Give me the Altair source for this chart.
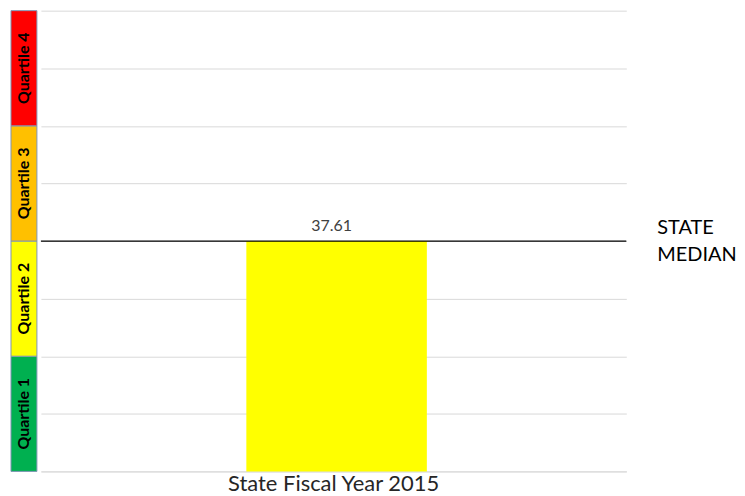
import altair as alt
import pandas as pd

# Data
years = ["State Fiscal Year 2015"]
values = [37.61]
state_median = 37.61
y_max = 75.22
quartile_labels = ["Quartile 1", "Quartile 2", "Quartile 3", "Quartile 4"]
quartile_lo = [0, 18.805, 37.61, 56.415]
quartile_hi = [18.805, 37.61, 56.415, 75.22]
quartile_colors = ["#00b050", "#ffff00", "#ffc000", "#ff0000"]
grid_values = [0, 9.4025, 18.805, 28.2075, 37.61, 47.0125, 56.415, 65.8175, 75.22]

FONT = "Lato"
H = 462

yscale = alt.Scale(domain=[0, y_max], nice=False, zero=True)

qdf = pd.DataFrame({
    "label": quartile_labels,
    "lo": quartile_lo,
    "hi": quartile_hi,
    "col": ["q"] * 4,
})

qx = alt.X("col:N", axis=None, scale=alt.Scale(paddingInner=0, paddingOuter=0))
qbase = alt.Chart(qdf)
qrect = qbase.mark_rect(stroke="#7f96b5", strokeWidth=1).encode(
    x=qx,
    y=alt.Y("lo:Q", scale=yscale, axis=None),
    y2="hi:Q",
    color=alt.Color("label:N", scale=alt.Scale(domain=quartile_labels, range=quartile_colors), legend=None),
)
qtext = qbase.transform_calculate(mid="(datum.lo + datum.hi) / 2").mark_text(
    angle=270, font=FONT, fontSize=16, fontWeight="bold", color="#000000",
    align="center", baseline="middle"
).encode(
    x=qx,
    y=alt.Y("mid:Q", scale=yscale, axis=None),
    text="label:N",
)
qpanel = alt.layer(qrect, qtext).properties(width=26, height=H)

df = pd.DataFrame({"year": years, "value": values})
mdf = pd.DataFrame({"median": [state_median], "label": [["STATE", "MEDIAN"]]})

bars = alt.Chart(df).mark_bar(color="#ffff00", size=181, xOffset=3).encode(
    x=alt.X("year:N", title=None, axis=alt.Axis(
        labelAngle=0, labelFontSize=22, labelFont=FONT, labelColor="#262626",
        labelLimit=0, ticks=False, domain=True, domainColor="#d9d9d9",
        labelPadding=2, grid=False)),
    y=alt.Y("value:Q", scale=yscale, title=None, axis=alt.Axis(
        values=grid_values, labels=False, ticks=False, domain=False,
        grid=True, gridColor="#d9d9d9", gridWidth=1)),
)
vlabels = alt.Chart(df).mark_text(
    font=FONT, fontSize=16, color="#404040", dy=-15, dx=-2, baseline="middle"
).encode(
    x="year:N",
    y=alt.Y("value:Q", scale=yscale),
    text=alt.Text("value:Q", format=".2f"),
)
rule = alt.Chart(mdf).mark_rule(color="#000000", strokeWidth=1.2).encode(
    y=alt.Y("median:Q", scale=yscale),
)
mtext = alt.Chart(mdf).mark_text(
    font=FONT, fontSize=20, color="#000000", align="left", baseline="middle",
    lineHeight=27, dy=-13
).encode(
    x=alt.value(618),
    y=alt.Y("median:Q", scale=yscale),
    text="label",
)
main = alt.layer(bars, vlabels, rule, mtext).properties(width=587, height=H)

chart = alt.hconcat(qpanel, main, spacing=2).properties(
    padding={"left": 2, "top": 1, "right": 0, "bottom": 0}
).configure(background="#ffffff").configure_view(strokeWidth=0, stroke=None)

chart.save("out.html", embed_options={"renderer": "svg", "actions": False})
